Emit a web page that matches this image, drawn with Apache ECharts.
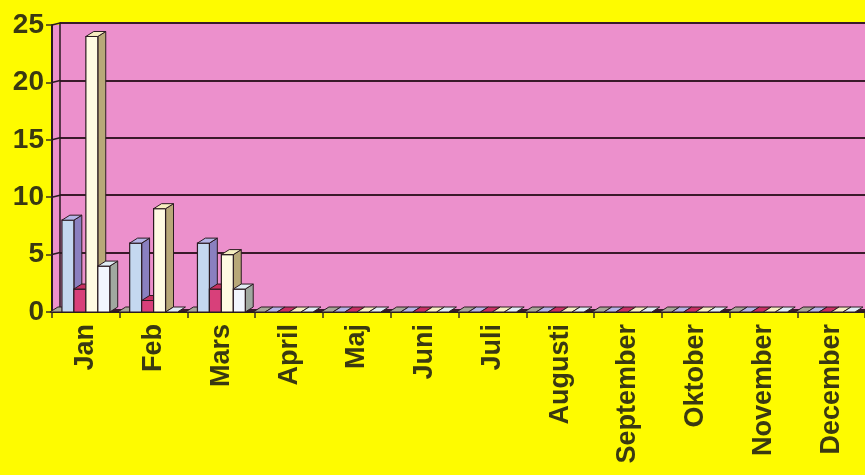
<!DOCTYPE html>
<html><head><meta charset="utf-8">
<script src="https://cdn.jsdelivr.net/npm/echarts@6/dist/echarts.min.js"></script>
<style>html,body{margin:0;padding:0;background:#fefb00;}#c{width:865px;height:475px;}</style>
</head><body><div id="c"></div>
<script>
const months = ['Jan','Feb','Mars','April','Maj','Juni','Juli','Augusti','September','Oktober','November','December'];
const seriesGray  = [0,0,0,0,0,0,0,0,0,0,0,0];
const seriesBlue  = [8,6,6,0,0,0,0,0,0,0,0,0];
const seriesRed   = [2,1,2,0,0,0,0,0,0,0,0,0];
const seriesCream = [24,9,5,0,0,0,0,0,0,0,0,0];
const seriesWhite = [4,0,2,0,0,0,0,0,0,0,0,0];
const yTicks = [0,5,10,15,20,25];

const palettes = [
  {front:'#a2a292', side:'#7a7a6a', top:'#a8a898'},
  {front:'#c4d8f0', side:'#8a80c0', top:'#b4b4e6'},
  {front:'#d8407a', side:'#a02850', top:'#c83062'},
  {front:'#fffbe2', side:'#b8a878', top:'#f6eec0'},
  {front:'#f2f6fe', side:'#a0a8a0', top:'#e0ecf4'}
];
const allSeries = [seriesGray, seriesBlue, seriesRed, seriesCream, seriesWhite];
const edge = '#2a1a20';

function makeBarSeries(vals, idx) {
  const pal = palettes[idx];
  return {
    type: 'custom', xAxisIndex: 0, yAxisIndex: 0, clip: false,
    data: vals.map((v, i) => [i, v]),
    renderItem: function (params, api) {
      const p = api.coord([api.value(0), api.value(1)]);
      const p0 = api.coord([api.value(0), 0]);
      const bw = api.size([1, 0])[0];
      const dx = bw * 0.117, dy = 5;
      const w = (bw - dx) / 5;
      const x0 = p[0] - bw / 2 - bw * 0.03 + idx * w;
      const top = p[1], bot = p0[1];
      const children = [];
      if (bot - top > 0.5) {
        children.push({type:'polygon', shape:{points:[[x0+w,top],[x0+w+dx,top-dy],[x0+w+dx,bot-dy],[x0+w,bot]]},
          style:{fill:pal.side, stroke:edge, lineWidth:1}});
        children.push({type:'rect', shape:{x:x0, y:top, width:w, height:bot-top},
          style:{fill:pal.front, stroke:edge, lineWidth:1.2}});
      }
      children.push({type:'polygon', shape:{points:[[x0,top],[x0+dx,top-dy],[x0+w+dx,top-dy],[x0+w,top]]},
        style:{fill:pal.top, stroke:edge, lineWidth:1}});
      return {type:'group', children};
    }
  };
}

const chart = echarts.init(document.getElementById('c'));
const labelColor = '#3a3912';
const series = [
  {
    type:'custom', xAxisIndex:0, yAxisIndex:0, clip:false, silent:true,
    data: yTicks.map(v => [0, v]),
    renderItem: function (params, api) {
      const y = api.coord([0, api.value(1)])[1];
      const x = params.coordSys.x;
      return {type:'line', shape:{x1:x, y1:y, x2:x+8, y2:y-2}, style:{stroke:edge, lineWidth:1.5}};
    }
  }
].concat(allSeries.map((s, i) => makeBarSeries(s, i)));

chart.setOption({
  backgroundColor: '#fefb00',
  animation: false,
  grid: [
    {left:52, top:25, width:820, height:287, show:true, backgroundColor:'#ec90cc', borderWidth:0},
    {left:60, top:23, width:820, height:287, show:true, backgroundColor:'#ec90cc', borderWidth:0}
  ],
  xAxis: [
    {type:'category', gridIndex:0, data:months, boundaryGap:true,
     axisLine:{show:true, lineStyle:{color:edge, width:2}},
     axisTick:{show:true, length:6, alignWithLabel:false, lineStyle:{color:'#3a3020', width:1.5}},
     axisLabel:{rotate:90, margin:12, interval:0, color:labelColor, fontSize:27, fontWeight:'bold', fontFamily:'Liberation Sans, Arial, sans-serif'},
     splitLine:{show:false}},
    {type:'category', gridIndex:1, data:months, show:false}
  ],
  yAxis: [
    {type:'value', gridIndex:0, min:0, max:25, interval:5,
     axisLine:{show:true, lineStyle:{color:edge, width:2}},
     axisTick:{show:true, length:6, lineStyle:{color:'#3a3020', width:1.5}},
     axisLabel:{margin:8, color:labelColor, fontSize:28, fontWeight:'bold', fontFamily:'Liberation Sans, Arial, sans-serif'},
     splitLine:{show:false}},
    {type:'value', gridIndex:1, min:0, max:25, interval:5,
     axisLine:{show:true, lineStyle:{color:edge, width:1.5}},
     axisTick:{show:false}, axisLabel:{show:false},
     splitLine:{show:true, lineStyle:{color:'#3a1a2a', width:2}}}
  ],
  series: series
});
</script>
</body></html>
